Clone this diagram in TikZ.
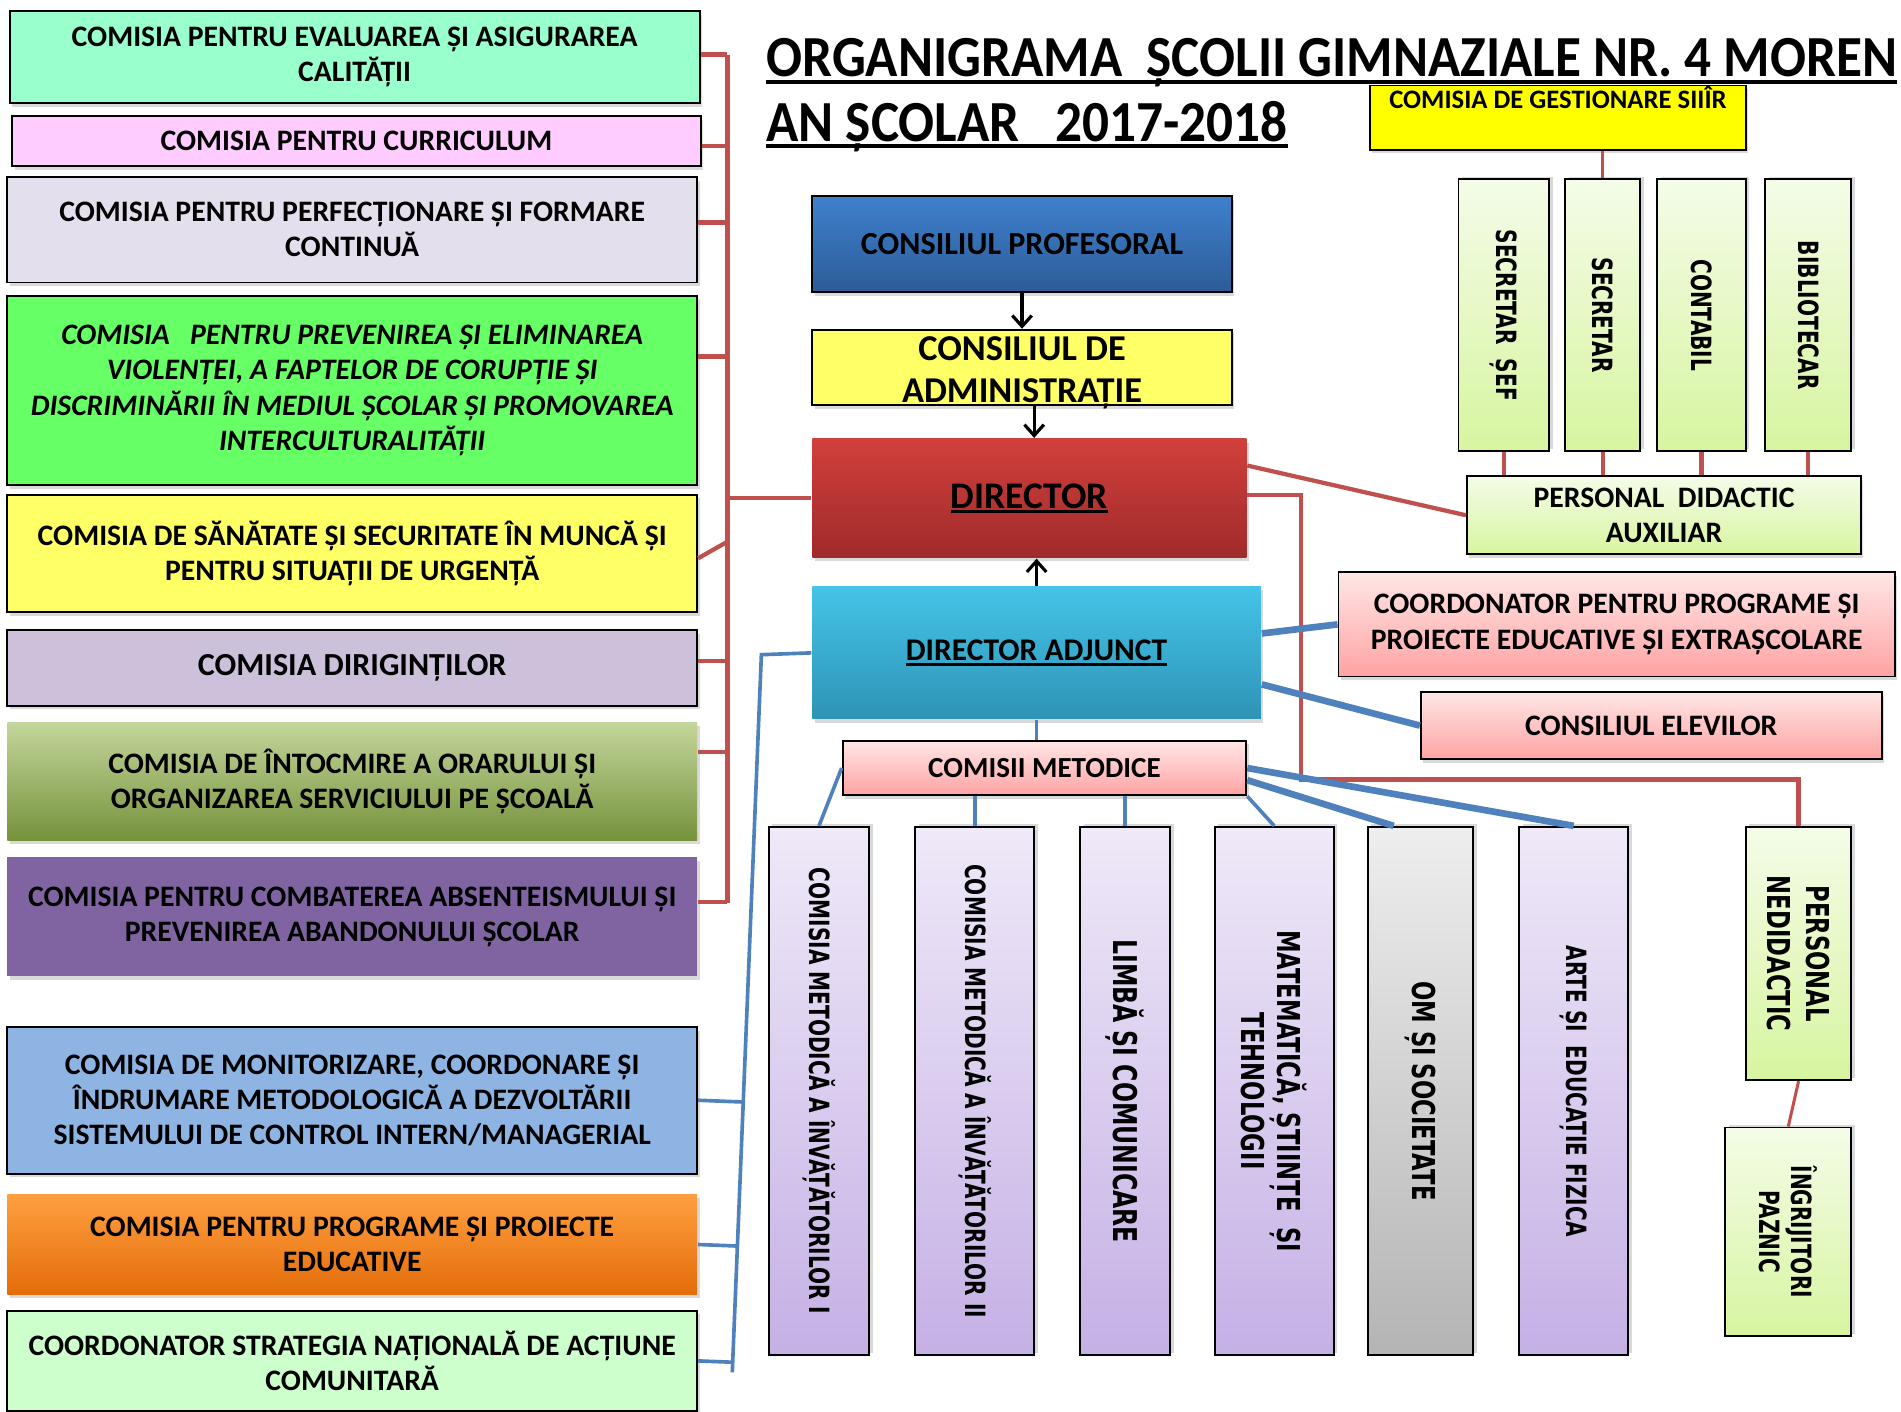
\documentclass[tikz,border=0pt]{standalone}
\usepackage{fontspec}
\setmainfont{Carlito}
\newfontfamily\vfont{DejaVu Sans}
\usepackage{graphicx}
\usetikzlibrary{calc,arrows.meta,shadows,positioning}

\definecolor{mint}{HTML}{99FFCC}
\definecolor{pinkc}{HTML}{FFCCFF}
\definecolor{lavc}{HTML}{E4DFEC}
\definecolor{greenc}{HTML}{66FF66}
\definecolor{yellc}{HTML}{FFFF66}
\definecolor{lilac}{HTML}{CCC0DA}
\definecolor{olivet}{HTML}{C3D69B}
\definecolor{oliveb}{HTML}{76923C}
\definecolor{purp}{HTML}{8064A2}
\definecolor{bluec}{HTML}{8DB4E2}
\definecolor{oranget}{HTML}{FFA040}
\definecolor{orangeb}{HTML}{E46C0A}
\definecolor{lgreen}{HTML}{CCFFCC}
\definecolor{cpt}{HTML}{3E80CD}
\definecolor{cpb}{HTML}{2D5C97}
\definecolor{dirt}{HTML}{D0403C}
\definecolor{dirb}{HTML}{A02A2A}
\definecolor{dat}{HTML}{44C4E8}
\definecolor{dab}{HTML}{2E93B6}
\definecolor{pinkt}{HTML}{FFE6E6}
\definecolor{pinkb}{HTML}{FFA3A3}
\definecolor{lgt}{HTML}{F4FCE8}
\definecolor{lgb}{HTML}{D7F5A0}
\definecolor{purt}{HTML}{EFE9F8}
\definecolor{purb}{HTML}{C5B0E5}
\definecolor{grayt}{HTML}{EEEEEE}
\definecolor{grayb}{HTML}{B4B4B4}
\definecolor{gestc}{HTML}{FFFF00}
\definecolor{redl}{HTML}{C0504D}
\definecolor{bluel}{HTML}{4F81BD}

\newsavebox\ulbox
\newcommand{\ulbold}[3]{\sbox\ulbox{#3}\rlap{\usebox\ulbox}\rule[#1]{\wd\ulbox}{#2}}
\newcommand{\sq}[1]{\scalebox{0.72}[1]{#1}}

\tikzset{
    shdw/.style = {drop shadow={shadow xshift=2pt, shadow yshift=-3pt, opacity=.3}},
    vshdw/.style = {drop shadow={shadow xshift=3pt, shadow yshift=2pt, opacity=.3}},
    block/.style = {draw, rectangle, line width=1.6pt, inner sep=2pt, align=center,
        font=\bfseries\fontsize{24.5}{29}\selectfont, shdw},
    vblock/.style = {draw, rectangle, line width=1.6pt, inner sep=2pt, align=center,
        rotate=-90, font=\vfont\bfseries\fontsize{23}{29}\selectfont, vshdw},
    title/.style = {inner sep=0pt, font=\bfseries\fontsize{48}{54}\selectfont},
    redline/.style = {draw=redl, line width=3.5pt},
    thinred/.style = {draw=redl, line width=2.5pt},
    blueline/.style = {draw=bluel, line width=3pt},
    thickblue/.style = {draw=bluel, line width=5.5pt},
    arrow/.style = {draw, ->, line width=2.6pt}
}

\begin{document}
\begin{tikzpicture}[x=1pt, y=-1pt, >={Straight Barb[length=9pt,width=16pt]}]
\useasboundingbox (0,0) rectangle (1568,1164);

% titlu
\node [title, anchor=base west] (t1) at (632,63) {\scalebox{0.915}[1]{\ulbold{-6pt}{3pt}{ORGANIGRAMA\ \ ȘCOLII GIMNAZIALE NR. 4 MOREN}}};
\node [title, anchor=base west] (t2) at (632,117) {\scalebox{0.915}[1]{\ulbold{-5pt}{3pt}{AN ȘCOLAR\ \ \ 2017-2018}}};

% comisii (stanga)
\node [block, fill=mint, minimum width=569pt, minimum height=76pt] (b1) at (292.5,47) {COMISIA PENTRU EVALUAREA ȘI ASIGURAREA\\CALITĂȚII};
\node [block, fill=pinkc, minimum width=568pt, minimum height=41pt] (b2) at (294,116.5) {COMISIA PENTRU CURRICULUM};
\node [block, fill=lavc, minimum width=569pt, minimum height=87pt] (b3) at (290.5,189.5) {COMISIA PENTRU PERFECȚIONARE ȘI FORMARE\\CONTINUĂ};
\node [block, fill=greenc, minimum width=569pt, minimum height=156pt, font=\bfseries\itshape\fontsize{24.5}{29}\selectfont] (b4) at (290.5,322) {COMISIA\ \ \ PENTRU PREVENIREA ȘI ELIMINAREA\\VIOLENȚEI, A FAPTELOR DE CORUPȚIE ȘI\\DISCRIMINĂRII ÎN MEDIUL ȘCOLAR ȘI PROMOVAREA\\INTERCULTURALITĂȚII};
\node [block, fill=yellc, minimum width=569pt, minimum height=97pt] (b5) at (290.5,456.5) {COMISIA DE SĂNĂTATE ȘI SECURITATE ÎN MUNCĂ ȘI\\PENTRU SITUAȚII DE URGENȚĂ};
\node [block, fill=lilac, minimum width=569pt, minimum height=62pt, font=\bfseries\fontsize{26.5}{31}\selectfont] (b6) at (290.5,551) {COMISIA DIRIGINȚILOR};
\node [block, draw=none, top color=olivet, bottom color=oliveb, minimum width=569pt, minimum height=97pt] (b7) at (290.5,644.5) {COMISIA DE ÎNTOCMIRE A ORARULUI ȘI\\ORGANIZAREA SERVICIULUI PE ȘCOALĂ};
\node [block, draw=none, fill=purp, minimum width=569pt, minimum height=98pt] (b8) at (290.5,756) {COMISIA PENTRU COMBATEREA ABSENTEISMULUI ȘI\\PREVENIREA ABANDONULUI ȘCOLAR};
\node [block, fill=bluec, minimum width=569pt, minimum height=121pt] (b9) at (290.5,907.5) {COMISIA DE MONITORIZARE, COORDONARE ȘI\\ÎNDRUMARE METODOLOGICĂ A DEZVOLTĂRII\\SISTEMULUI DE CONTROL INTERN/MANAGERIAL};
\node [block, draw=none, top color=oranget, bottom color=orangeb, minimum width=569pt, minimum height=83pt] (b10) at (290.5,1026.5) {COMISIA PENTRU PROGRAME ȘI PROIECTE\\EDUCATIVE};
\node [block, fill=lgreen, minimum width=569pt, minimum height=83pt] (b11) at (290.5,1122.5) {COORDONATOR STRATEGIA NAȚIONALĂ DE ACȚIUNE\\COMUNITARĂ};

% conducere
\node [block, top color=cpt, bottom color=cpb, minimum width=346pt, minimum height=79pt, font=\bfseries\fontsize{26.5}{31}\selectfont] (cp) at (843,201.5) {CONSILIUL PROFESORAL};
\node [block, fill=yellc, minimum width=346pt, minimum height=62pt, text height=58pt, text depth=0pt, font=\bfseries\fontsize{30}{35}\selectfont] (ca) at (843,303) {CONSILIUL DE\\ADMINISTRAȚIE};
\node [block, draw=none, top color=dirt, bottom color=dirb, minimum width=358pt, minimum height=98pt, font=\bfseries\fontsize{31}{36}\selectfont] (dir) at (849,411) {\ulbold{-4pt}{2.2pt}{DIRECTOR}};
\node [block, draw=none, top color=dat, bottom color=dab, minimum width=370pt, minimum height=109pt, font=\bfseries\fontsize{26}{31}\selectfont] (dadj) at (855,538.5) {\ulbold{-4pt}{2pt}{DIRECTOR ADJUNCT}};
\node [block, top color=pinkt, bottom color=pinkb, minimum width=333pt, minimum height=45pt, font=\bfseries\fontsize{24}{29}\selectfont] (cm) at (861.5,633.5) {COMISII METODICE};

% dreapta
\node [block, fill=gestc, minimum width=310pt, inner sep=3pt, text height=16pt, text depth=31pt, font=\bfseries\fontsize{22}{26}\selectfont] (gest) at (1285,97) {COMISIA DE GESTIONARE SIIÎR};
\node [block, top color=lgt, bottom color=lgb, minimum width=325pt, minimum height=64pt] (pda) at (1372.5,425) {PERSONAL\ \ DIDACTIC\\AUXILIAR};
\node [block, top color=pinkt, bottom color=pinkb, minimum width=459pt, minimum height=86pt] (coord) at (1333.5,515) {COORDONATOR PENTRU PROGRAME ȘI\\PROIECTE EDUCATIVE ȘI EXTRAȘCOLARE};
\node [block, top color=pinkt, bottom color=pinkb, minimum width=380pt, minimum height=55pt] (ce) at (1362,598.5) {CONSILIUL ELEVILOR};

% personal auxiliar (vertical)
\node [vblock, top color=lgt, bottom color=lgb, minimum width=224pt, minimum height=75pt] (s1) at (1240.5,260) {\sq{SECRETAR\ \ ȘEF}};
\node [vblock, top color=lgt, bottom color=lgb, minimum width=224pt, minimum height=62pt] (s2) at (1322,260) {\sq{SECRETAR}};
\node [vblock, top color=lgt, bottom color=lgb, minimum width=224pt, minimum height=73pt] (s3) at (1403.5,260) {\sq{CONTABIL}};
\node [vblock, top color=lgt, bottom color=lgb, minimum width=224pt, minimum height=71pt] (s4) at (1491.5,260) {\sq{BIBLIOTECAR}};

% comisii metodice (vertical)
\node [vblock, top color=purt, bottom color=purb, minimum width=436pt, minimum height=83pt] (c1) at (675.5,900) {\sq{COMISIA METODICĂ A ÎNVĂȚĂTORILOR I}};
\node [vblock, top color=purt, bottom color=purb, minimum width=436pt, minimum height=98pt] (c2) at (804,900) {\sq{COMISIA METODICĂ A ÎNVĂȚĂTORILOR II}};
\node [vblock, top color=purt, bottom color=purb, minimum width=436pt, minimum height=74pt, font=\vfont\bfseries\fontsize{27}{32}\selectfont] (c3) at (928,900) {\sq{LIMBĂ ȘI COMUNICARE}};
\node [vblock, top color=purt, bottom color=purb, minimum width=436pt, minimum height=98pt, font=\vfont\bfseries\fontsize{26}{30}\selectfont] (c4) at (1051,900) {\sq{MATEMATICĂ, ȘTIINȚE\ \ ȘI}\\\sq{TEHNOLOGII}};
\node [vblock, top color=grayt, bottom color=grayb, minimum width=436pt, minimum height=87pt, font=\vfont\bfseries\fontsize{26}{30}\selectfont] (c5) at (1171.5,900) {\sq{OM ȘI SOCIETATE}};
\node [vblock, top color=purt, bottom color=purb, minimum width=436pt, minimum height=90pt] (c6) at (1298,900) {\sq{ARTE ȘI\ \ EDUCAȚIE FIZICA}};

% personal nedidactic
\node [vblock, top color=lgt, bottom color=lgb, minimum width=209pt, minimum height=87pt, font=\vfont\bfseries\fontsize{26}{32}\selectfont] (pn) at (1483.5,786.5) {\sq{PERSONAL}\\\sq{NEDIDACTIC}};
\node [vblock, top color=lgt, bottom color=lgb, minimum width=172pt, minimum height=104pt, font=\vfont\bfseries\fontsize{23}{27}\selectfont] (ip) at (1475,1016) {\sq{ÎNGRIJITORI}\\\sq{PAZNIC}};

% sageti
\draw [arrow] (cp.south) -- (ca.north);
\draw [arrow] ([xshift=10pt]ca.south) -- ([xshift=10pt]ca.south |- dir.north);
\draw [arrow] (dadj.north) -- (dadj.north |- dir.south);

% acolada rosie
\coordinate (rbt) at (600,45);
\coordinate (rbb) at (600,745);
\draw [redline] (rbt) -- (rbb);
\foreach \b/\dy in {1/2, 2/-4, 3/6, 4/28, 6/6, 7/24, 8/12}{
    \draw [redline] ([yshift=\dy pt]b\b.east) -- ([yshift=\dy pt]b\b.east -| rbt);
}
\draw [redline] ([yshift=-4pt]b5.east) -- ($(rbt)!0.574!(rbb)$);
\draw [redline] (dir.west -| rbt) -- (dir.west);

% acolada albastra
\coordinate (lbt) at (628,540);
\coordinate (lbb) at (604,1132);
\draw [blueline] (dadj.west) -- (lbt) -- (lbb);
\foreach \b in {9,10,11}{
    \draw [blueline] (b\b.east) -- ($(lbt)!(b\b.east)!(lbb)$);
}

% director
\draw [redline] ([yshift=27pt]dir.east) -- (pda.west);
\coordinate (rr) at (1073,643);
\draw [redline] ([yshift=3pt]dir.east) -- ([yshift=3pt]dir.east -| rr) -- (rr) -| (pn.west);
\draw [thinred] (pn.east) -- (ip.west);

% personal auxiliar
\draw [thinred] (s2.west |- gest.south) -- (s2.west);
\foreach \a in {1,...,4}{
    \draw [redline] (s\a.east) -- (s\a.east |- pda.north);
}

% director adjunct
\draw [thickblue] ([yshift=16pt]dadj.east) -- (coord.west);
\draw [thickblue] ([yshift=-26pt]dadj.east) -- (ce.west);
\draw [blueline] (dadj.south) -- (dadj.south |- cm.north);

% comisii metodice
\draw [blueline] (cm.west) -- (c1.west);
\draw [blueline] (c2.west |- cm.south) -- (c2.west);
\draw [blueline] (c3.west |- cm.south) -- (c3.west);
\draw [blueline] (cm.south east) -- (c4.west);
\draw [thickblue] ([yshift=-10pt]cm.east) -- ([xshift=-22pt]c5.west);
\draw [thickblue] (cm.east) -- (c6.west);
\end{tikzpicture}
\end{document}
